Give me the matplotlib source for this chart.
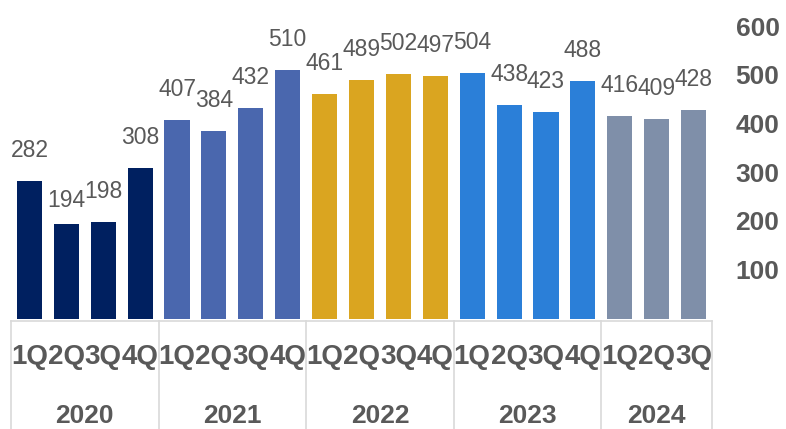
import matplotlib
matplotlib.use("Agg")
import matplotlib.pyplot as plt
import matplotlib.transforms as mtransforms
import numpy as np

plt.rcParams["font.family"] = ["Liberation Sans", "DejaVu Sans"]

# quarterly values, grouped by year
years = ["2020", "2021", "2022", "2023", "2024"]
quarters = [
    ["1Q", "2Q", "3Q", "4Q"],
    ["1Q", "2Q", "3Q", "4Q"],
    ["1Q", "2Q", "3Q", "4Q"],
    ["1Q", "2Q", "3Q", "4Q"],
    ["1Q", "2Q", "3Q"],
]
values = [
    [282, 194, 198, 308],
    [407, 384, 432, 510],
    [461, 489, 502, 497],
    [504, 438, 423, 488],
    [416, 409, 428],
]
year_colors = ["#002060", "#4a67ae", "#daa520", "#2b7fd8", "#7f8fa9"]
y_ticks = [100, 200, 300, 400, 500, 600]

TEXT = "#595959"
GRID = "#d9d9d9"

fig = plt.figure(figsize=(7.86, 4.29), dpi=100)
ax = fig.add_axes([11 / 786, 1 - 318.5 / 429, 701 / 786, 292.5 / 429])

flat_vals = [v for grp in values for v in grp]
flat_q = [q for grp in quarters for q in grp]
flat_c = [c for grp, c in zip(values, year_colors) for _ in grp]
x = np.arange(len(flat_vals))

ax.bar(x, flat_vals, width=0.68, color=flat_c)

# value labels above the bars (the 194 label sits a bit lower in the original)
for i, v in enumerate(flat_vals):
    off = 12 if v == 194 else 19
    ax.annotate(str(v), (i, v), xytext=(0, off), textcoords="offset pixels",
                ha="center", va="bottom", fontsize=16.5, color=TEXT)

ax.set_xlim(-0.5, len(flat_vals) - 0.5)
ax.set_ylim(0, 600)
for s in ax.spines.values():
    s.set_visible(False)
ax.set_xticks([])
ax.yaxis.tick_right()
ax.set_yticks(y_ticks)
ax.tick_params(axis="y", length=0, pad=17, labelsize=19, labelcolor=TEXT)
for lab in ax.get_yticklabels():
    lab.set_fontweight("bold")

# two-level category axis below the plot
trans = mtransforms.blended_transform_factory(ax.transData, ax.transAxes)
ax.plot([-0.5, len(flat_vals) - 0.5], [-0.007, -0.007], transform=trans,
        color=GRID, lw=1.2, clip_on=False)
for i, q in enumerate(flat_q):
    ax.text(i, -0.132, q, transform=trans, ha="center", va="center",
            fontsize=20, fontweight="bold", color=TEXT, clip_on=False)

start = -0.5
for yr, grp in zip(years, values):
    end = start + len(grp)
    ax.plot([start, start], [-0.007, -0.4], transform=trans, color=GRID,
            lw=1.2, clip_on=False)
    ax.text((start + end) / 2, -0.335, yr, transform=trans, ha="center",
            va="center", fontsize=19, fontweight="bold", color=TEXT,
            clip_on=False)
    start = end
ax.plot([start, start], [-0.007, -0.4], transform=trans, color=GRID,
        lw=1.2, clip_on=False)

fig.savefig("out.png", dpi=100)
